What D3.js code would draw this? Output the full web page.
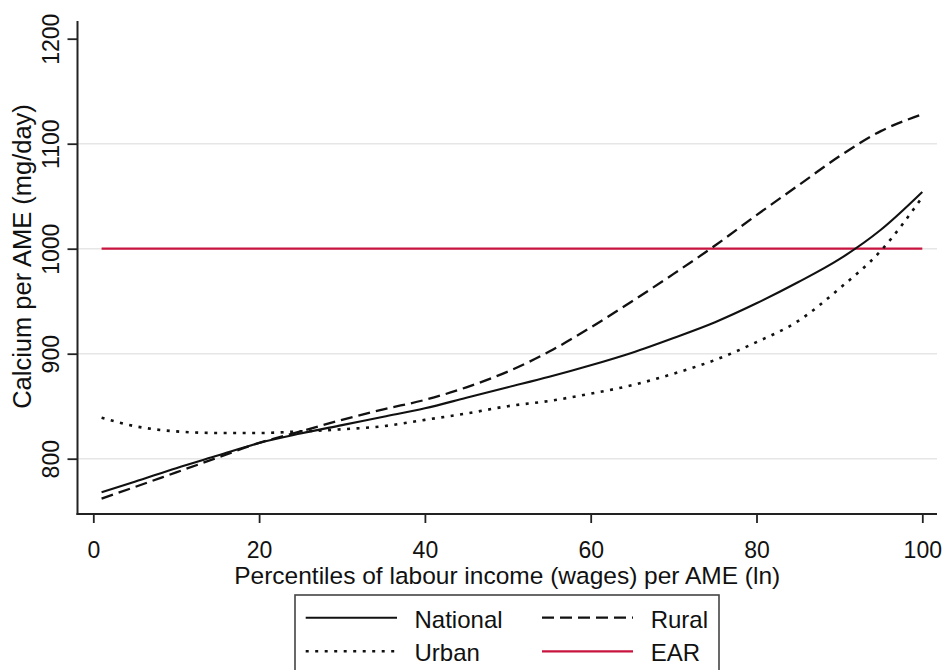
<!DOCTYPE html>
<html>
<head>
<meta charset="utf-8">
<script src="https://cdn.jsdelivr.net/npm/d3@7/dist/d3.min.js"></script>
<style>
  html, body { margin: 0; padding: 0; background: #fff; }
  svg { display: block; }
  text { font-family: "Liberation Sans", Arial, Helvetica, sans-serif; fill: #111; }
</style>
</head>
<body>
<script>
// ---- data ----
const percentiles = [1,5,10,15,20,25,30,35,40,45,50,55,60,65,70,75,80,85,90,95,100];
const national = [768,778,791,803,815,824,832,840,848,858,868,878,889,901,915,930,948,968,990,1018,1054];
const rural    = [762,773,787,801,815,826,837,847,856,868,883,902,925,950,976,1003,1032,1060,1088,1112,1128];
const urban    = [839,831,826,824.5,824.5,826,828,831,837,843,850,855,862,870,881,894,911,931,962,998,1049];
const earPercentiles = [1, 100];
const earValue = 1000;
const xTicks = [0,20,40,60,80,100];
const yTicks = [800,900,1000,1100,1200];
const gridValues = [800,900,1000,1100];
const seriesNames = ["National","Rural","Urban","EAR"];
const xTitle = "Percentiles of labour income (wages) per AME (ln)";
const yTitle = "Calcium per AME (mg/day)";

const W = 945, H = 670;
const svg = d3.select("body").append("svg").attr("width", W).attr("height", H);

const x = d3.scaleLinear().domain([0, 100]).range([93.3, 922.3]);
const y = d3.scaleLinear().domain([800, 1200]).range([458.7, 38.7]);

const plotLeft = 77.5, plotRight = 937, plotTop = 21, plotBottom = 514;

// gridlines
svg.append("g").selectAll("line").data(gridValues).join("line")
  .attr("x1", plotLeft).attr("x2", plotRight)
  .attr("y1", d => y(d)).attr("y2", d => y(d))
  .attr("stroke", "#e6e6e6").attr("stroke-width", 1.6);

// axes
const yAxis = d3.axisLeft(y).tickValues(yTicks).tickSize(10).tickPadding(8).tickFormat(d3.format("d"));
const gy = svg.append("g").attr("transform", `translate(${plotLeft},0)`).call(yAxis);
gy.select(".domain").remove();
gy.selectAll(".tick line").attr("stroke", "#222").attr("stroke-width", 1.8);
gy.selectAll(".tick text")
  .attr("font-size", 23).attr("fill", "#111")
  .attr("text-anchor", "middle")
  .attr("x", null).attr("dy", null)
  .attr("transform", "translate(-19,0) rotate(-90)")
  .attr("y", 0);

svg.append("line").attr("x1", plotLeft).attr("x2", plotLeft)
  .attr("y1", plotTop).attr("y2", plotBottom + 1)
  .attr("stroke", "#222").attr("stroke-width", 2);

const xAxis = d3.axisBottom(x).tickValues(xTicks).tickSize(9).tickPadding(6).tickFormat(d3.format("d"));
const gx = svg.append("g").attr("transform", `translate(0,${plotBottom})`).call(xAxis);
gx.select(".domain").remove();
gx.selectAll(".tick line").attr("stroke", "#222").attr("stroke-width", 1.8);
gx.selectAll(".tick text").attr("font-size", 23).attr("fill", "#111").attr("dy", null).attr("y", 44);

svg.append("line").attr("x1", plotLeft - 1).attr("x2", plotRight)
  .attr("y1", plotBottom).attr("y2", plotBottom)
  .attr("stroke", "#222").attr("stroke-width", 2);

// axis titles
svg.append("text").attr("x", (plotLeft + plotRight) / 2).attr("y", 584)
  .attr("text-anchor", "middle").attr("font-size", 24.5).text(xTitle);
svg.append("text").attr("transform", "translate(31,256.5) rotate(-90)")
  .attr("text-anchor", "middle").attr("font-size", 25.5).text(yTitle);

// lines
const line = d3.line().x(d => x(d[0])).y(d => y(d[1])).curve(d3.curveMonotoneX);
const styles = {
  National: { stroke: "#111", dash: null, width: 2.1 },
  Rural:    { stroke: "#111", dash: "12,6", width: 2.3 },
  Urban:    { stroke: "#111", dash: "3,6.5", width: 2.6 },
  EAR:      { stroke: "#c8143f", dash: null, width: 2.3 }
};
const seriesData = {
  National: percentiles.map((p, i) => [p, national[i]]),
  Rural: percentiles.map((p, i) => [p, rural[i]]),
  Urban: percentiles.map((p, i) => [p, urban[i]]),
  EAR: earPercentiles.map(p => [p, earValue])
};
["EAR","Urban","Rural","National"].forEach(name => {
  const s = styles[name];
  svg.append("path").datum(seriesData[name])
    .attr("d", line).attr("fill", "none")
    .attr("stroke", s.stroke).attr("stroke-width", s.width)
    .attr("stroke-dasharray", s.dash);
});

// legend
const lg = svg.append("g");
lg.append("rect").attr("x", 295).attr("y", 595).attr("width", 424).attr("height", 90)
  .attr("fill", "#fff").attr("stroke", "#444").attr("stroke-width", 1.6);
const legendItems = [
  { name: "National", x1: 305.7, x2: 397, ly: 617.7, tx: 414.5, ty: 627.7 },
  { name: "Rural",    x1: 542,   x2: 633, ly: 617.7, tx: 650.7, ty: 627.7 },
  { name: "Urban",    x1: 305.7, x2: 397, ly: 651.3, tx: 414.5, ty: 661 },
  { name: "EAR",      x1: 542,   x2: 633, ly: 651.3, tx: 650.7, ty: 661 }
];
legendItems.forEach(it => {
  const s = styles[it.name];
  lg.append("line").attr("x1", it.x1).attr("x2", it.x2).attr("y1", it.ly).attr("y2", it.ly)
    .attr("stroke", s.stroke).attr("stroke-width", s.width).attr("stroke-dasharray", s.dash);
  lg.append("text").attr("x", it.tx).attr("y", it.ty).attr("font-size", 24).text(it.name);
});
</script>
</body>
</html>
